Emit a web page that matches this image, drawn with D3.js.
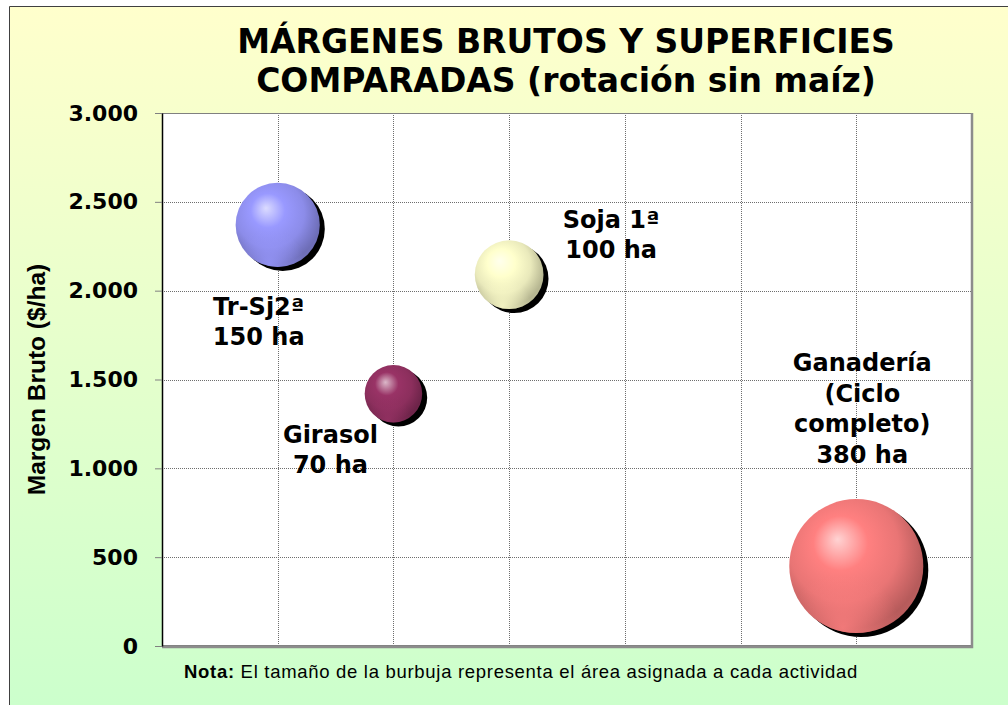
<!DOCTYPE html>
<html>
<head>
<meta charset="utf-8">
<script src="https://cdn.jsdelivr.net/npm/d3@7"></script>
<style>
  html, body { margin: 0; padding: 0; background: #ffffff; }
  svg { display: block; }
</style>
</head>
<body>
<svg id="chart" width="1008" height="705"></svg>
<script>
// Activities of the rotation (without maize)
const nameLines = [["Tr-Sj2ª"], ["Girasol"], ["Soja 1ª"], ["Ganadería", "(Ciclo", "completo)"]];
const xSlots    = [1, 2, 3, 6];            // horizontal slot of each activity
const margins   = [2370, 1420, 2090, 450]; // gross margin, $/ha
const hectares  = [150, 70, 100, 380];     // area assigned, ha
const yTicks    = [0, 500, 1000, 1500, 2000, 2500, 3000];
const xGrid     = [1, 2, 3, 4, 5, 6];

const titleLines = ["MÁRGENES BRUTOS Y SUPERFICIES", "COMPARADAS (rotación sin maíz)"];
const yTitle = "Margen Bruto ($/ha)";
const noteBold = "Nota:";
const noteText = " El tamaño de la burbuja representa el área asignada a cada actividad";

// Sphere colours and label placement (pixel offsets from bubble centre)
const sphereColors = ["#9999ff", "#993366", "#ffffcc", "#ff8080"];
const labelOffsets = [[-19, 90], [-63, 49], [102, -47], [6, -195]];

const W = 1008, H = 705;
const plot = { left: 162, top: 113, right: 972, bottom: 646 };

const svg = d3.select("#chart");
const defs = svg.append("defs");

// Chart background: yellow to green
const bg = defs.append("linearGradient").attr("id", "bg")
  .attr("x1", 0).attr("y1", 0).attr("x2", 0).attr("y2", 1);
bg.append("stop").attr("offset", 0).attr("stop-color", "#ffffcc");
bg.append("stop").attr("offset", 1).attr("stop-color", "#ccffcc");

svg.append("rect").attr("x", 9).attr("y", 6).attr("width", W - 9).attr("height", H - 6)
  .attr("fill", "url(#bg)");
svg.append("path").attr("d", `M9.5,${H} V6.5 H${W}`)
  .attr("fill", "none").attr("stroke", "#404040").attr("stroke-width", 1);

// Sphere shading gradients
sphereColors.forEach((c, i) => {
  const base = d3.rgb(c);
  const light = d3.interpolateRgb(c, "#ffffff")(0.65);
  const g = defs.append("radialGradient").attr("id", "sphere" + i)
    .attr("cx", 0.44).attr("cy", 0.4).attr("r", 0.68)
    .attr("fx", 0.36).attr("fy", 0.3);
  const stops = [
    [0, light],
    [0.3, base.formatHex()],
    [0.6, base.darker(0.25).formatHex()],
    [0.86, base.darker(0.95).formatHex()],
    [1, base.darker(0.8).formatHex()]
  ];
  stops.forEach(([o, col]) => g.append("stop").attr("offset", o).attr("stop-color", col));
  // bottom rim reflection
  const rim = defs.append("radialGradient").attr("id", "rim" + i)
    .attr("cx", 0.4).attr("cy", 0.96).attr("r", 0.42);
  rim.append("stop").attr("offset", 0).attr("stop-color", c).attr("stop-opacity", 0.8);
  rim.append("stop").attr("offset", 1).attr("stop-color", c).attr("stop-opacity", 0);
});

const x = d3.scaleLinear().domain([0, 7]).range([plot.left, plot.right]);
const y = d3.scaleLinear().domain([0, 3000]).range([plot.bottom, plot.top]);
const r = d3.scaleSqrt().domain([0, 380]).range([0, 67]);

// Plot area
svg.append("rect")
  .attr("x", plot.left).attr("y", plot.top)
  .attr("width", plot.right - plot.left).attr("height", plot.bottom - plot.top)
  .attr("fill", "#ffffff");

// Grid lines
const grid = svg.append("g").attr("stroke", "#6e6e6e").attr("stroke-width", 1)
  .attr("stroke-dasharray", "1,1");
grid.selectAll("line.h").data(yTicks.filter(t => t > 0 && t < 3000)).join("line")
  .attr("class", "h")
  .attr("x1", plot.left).attr("x2", plot.right)
  .attr("y1", d => Math.round(y(d)) + 0.5).attr("y2", d => Math.round(y(d)) + 0.5);
grid.selectAll("line.v").data(xGrid).join("line")
  .attr("class", "v")
  .attr("y1", plot.top).attr("y2", plot.bottom)
  .attr("x1", d => Math.round(x(d)) + 0.5).attr("x2", d => Math.round(x(d)) + 0.5);

// Plot border
svg.append("rect")
  .attr("x", plot.left + 0.5).attr("y", plot.top + 0.5)
  .attr("width", plot.right - plot.left - 1).attr("height", plot.bottom - plot.top - 1)
  .attr("fill", "none").attr("stroke", "#808080").attr("stroke-width", 1);
svg.append("path")
  .attr("d", `M${plot.right},${plot.top} V${plot.bottom + 1} H${plot.left}`)
  .attr("fill", "none").attr("stroke", "#8c8c8c").attr("stroke-width", 2.5);

// Y axis
const fmt = d3.formatLocale({ decimal: ",", thousands: ".", grouping: [3], currency: ["$", ""] }).format(",d");
const yAxis = d3.axisLeft(y).tickValues(yTicks).tickFormat(fmt).tickSize(7).tickSizeOuter(0).tickPadding(17);
const ya = svg.append("g").attr("transform", `translate(${plot.left},0)`).call(yAxis);
ya.select(".domain").attr("stroke", "#000000").attr("stroke-width", 1.5);
ya.selectAll(".tick line").attr("stroke", "#808080");
ya.selectAll(".tick text")
  .attr("fill", "#000000")
  .style("font-family", "'DejaVu Sans', Verdana, sans-serif")
  .style("font-weight", "bold")
  .style("font-size", "22px");

// Y axis title
svg.append("text")
  .attr("transform", `translate(45,${(plot.top + plot.bottom) / 2}) rotate(-90)`)
  .attr("text-anchor", "middle")
  .style("font-family", "'Liberation Sans', Arial, sans-serif")
  .style("font-weight", "bold")
  .style("font-size", "24.5px")
  .text(yTitle);

// Title
svg.append("g").selectAll("text").data(titleLines).join("text")
  .attr("x", 566).attr("y", (d, i) => 53 + i * 39)
  .attr("text-anchor", "middle")
  .style("font-family", "'DejaVu Sans', Verdana, sans-serif")
  .style("font-weight", "bold")
  .style("font-size", "33px")
  .text(d => d);

// Bubbles
const data = margins.map((m, i) => ({
  slot: xSlots[i], margin: m, ha: hectares[i], lines: nameLines[i], i
}));

const bubbles = svg.append("g").selectAll("g").data(data).join("g");
bubbles.append("circle")
  .attr("cx", d => x(d.slot) + 5).attr("cy", d => y(d.margin) + 4)
  .attr("r", d => r(d.ha)).attr("fill", "#000000");
bubbles.append("circle")
  .attr("cx", d => x(d.slot)).attr("cy", d => y(d.margin))
  .attr("r", d => r(d.ha)).attr("fill", d => `url(#sphere${d.i})`);
bubbles.append("circle")
  .attr("cx", d => x(d.slot)).attr("cy", d => y(d.margin))
  .attr("r", d => r(d.ha)).attr("fill", d => `url(#rim${d.i})`);

// Bubble labels
const labels = svg.append("g").selectAll("text").data(data).join("text")
  .attr("text-anchor", "middle")
  .style("font-family", "'DejaVu Sans', Verdana, sans-serif")
  .style("font-weight", "bold")
  .style("font-size", "24px")
  .attr("x", d => x(d.slot) + labelOffsets[d.i][0])
  .attr("y", d => y(d.margin) + labelOffsets[d.i][1]);
labels.each(function (d) {
  const lines = d.lines.concat([`${d.ha} ha`]);
  const t = d3.select(this);
  lines.forEach((ln, k) => {
    t.append("tspan")
      .attr("x", x(d.slot) + labelOffsets[d.i][0])
      .attr("dy", k === 0 ? 0 : 30.5)
      .text(ln);
  });
});

// Note
const note = svg.append("text")
  .attr("x", 184).attr("y", 678)
  .style("font-family", "'Liberation Sans', Arial, sans-serif")
  .style("font-size", "18.5px")
  .style("letter-spacing", "0.7px");
note.append("tspan").style("font-weight", "bold").text(noteBold);
note.append("tspan").text(noteText);
</script>
</body>
</html>
